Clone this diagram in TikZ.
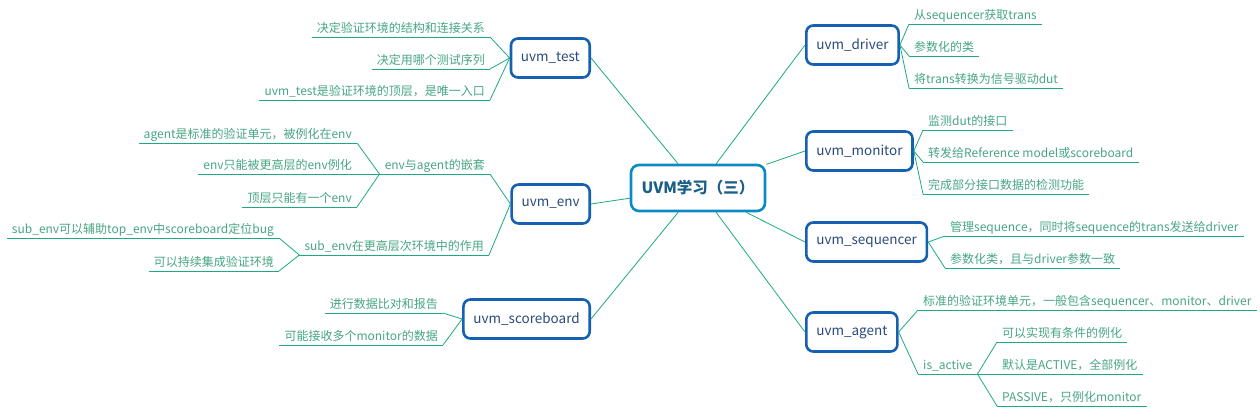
\documentclass[tikz,border=0pt]{standalone}
\usepackage{fontspec}
\setmainfont{Noto Sans CJK SC}
\usepackage{tikz}
\usetikzlibrary{positioning}
\definecolor{rootblue}{RGB}{12,138,196}
\definecolor{roottext}{RGB}{25,95,135}
\definecolor{branchblue}{RGB}{21,96,176}
\definecolor{branchtext}{RGB}{40,75,125}
\definecolor{twiggreen}{RGB}{28,170,128}
\definecolor{leaftext}{RGB}{70,165,130}

\tikzset{
  root/.style={draw=rootblue, line width=2.6pt, rounded corners=8pt, fill=white,
    text=roottext, font=\fontsize{15.5}{18}\selectfont\bfseries,
    minimum height=46pt, minimum width=134pt},
  branch/.style={draw=branchblue, line width=2.6pt, rounded corners=7pt, fill=white,
    text=branchtext, font=\fontsize{13.5}{16}\selectfont,
    minimum height=39pt, inner xsep=10pt},
  leaf/.style={text=leaftext, font=\fontsize{12}{14}\selectfont,
    inner xsep=5pt, inner ysep=2pt, text height=10pt, text depth=2.5pt},
  leafL/.style={leaf, anchor=south east},
  leafR/.style={leaf, anchor=south west},
  twig/.style={draw=twiggreen, line width=0.8pt}
}

\begin{document}
\begin{tikzpicture}[x=1pt, y=-1pt]
    \useasboundingbox (0,0) rectangle (1260,420);
    % the center
    \node[root] (root) at (698,188) {UVM学习（三）};

    % left branches
    \node[branch, anchor=east] (test) at (591,58) {uvm\_test};
    \node[branch, anchor=east] (env) at (591,204) {uvm\_env};
    \node[branch, anchor=east] (sb) at (591,319) {uvm\_scoreboard};

    % right branches
    \node[branch, anchor=west] (drv) at (805,45) {uvm\_driver};
    \node[branch, anchor=west] (mon) at (805,151) {uvm\_monitor};
    \node[branch, anchor=west] (seq) at (805,242) {uvm\_sequencer};
    \node[branch, anchor=west] (agt) at (805,332) {uvm\_agent};

    % uvm_test
    \node[leafL] (t1) at (490,37) {决定验证环境的结构和连接关系};
    \node[leafL] (t2) at (490,69) {决定用哪个测试序列};
    \node[leafL] (t3) at (490,100) {uvm\_test是验证环境的顶层，是唯一入口};

    % uvm_env
    \node[leafL] (e1) at (490,174) {env与agent的嵌套};
    \node[leafL] (e2) at (489,255) {sub\_env在更高层次环境中的作用};
    \node[leafL] (e11) at (357,143) {agent是标准的验证单元，被例化在env};
    \node[leafL] (e12) at (357,174) {env只能被更高层的env例化};
    \node[leafL] (e13) at (357,207) {顶层只能有一个env};
    \node[leafL] (e21) at (279,238) {sub\_env可以辅助top\_env中scoreboard定位bug};
    \node[leafL] (e22) at (279,271) {可以持续集成验证环境};

    % uvm_scoreboard
    \node[leafL] (s1) at (443,313) {进行数据比对和报告};
    \node[leafL] (s2) at (443,345) {可能接收多个monitor的数据};

    % uvm_driver
    \node[leafR] (d1) at (909,24) {从sequencer获取trans};
    \node[leafR] (d2) at (909,56) {参数化的类};
    \node[leafR] (d3) at (909,88) {将trans转换为信号驱动dut};

    % uvm_monitor
    \node[leafR] (m1) at (923,130) {监测dut的接口};
    \node[leafR] (m2) at (923,162) {转发给Reference model或scoreboard};
    \node[leafR] (m3) at (923,194) {完成部分接口数据的检测功能};

    % uvm_sequencer
    \node[leafR] (q1) at (945,236) {管理sequence，同时将sequence的trans发送给driver};
    \node[leafR] (q2) at (945,268) {参数化类，且与driver参数一致};

    % uvm_agent
    \node[leafR] (a1) at (918,310) {标准的验证环境单元，一般包含sequencer、monitor、driver};
    \node[leafR] (a2) at (918,374) {is\_active};
    \node[leafR] (a21) at (997,342) {可以实现有条件的例化};
    \node[leafR] (a22) at (997,374) {默认是ACTIVE，全部例化};
    \node[leafR] (a23) at (997,406) {PASSIVE，只例化monitor};

    % underlines
    \foreach \n in {t1,t2,t3,e1,e2,e11,e12,e13,e21,e22,s1,s2,
                    d1,d2,d3,m1,m2,m3,q1,q2,a1,a2,a21,a22,a23}
        \draw[twig] (\n.south west) -- (\n.south east);

    % connectors
    \draw[twig]
        (test.east) -- (root)
        (env.east) -- (root)
        (sb.east) -- (root)
        (drv.west) -- (root)
        (mon.west) -- (root)
        (seq.west) -- (root)
        (agt.west) -- (root);
    \draw[twig]
        (test.west) edge (t1.south east)
        (test.west) edge (t2.south east)
        (test.west) edge (t3.south east)
        (env.west) edge (e1.south east)
        (env.west) edge (e2.south east)
        (e1.south west) edge (e11.south east)
        (e1.south west) edge (e12.south east)
        (e1.south west) edge (e13.south east)
        (e2.south west) edge (e21.south east)
        (e2.south west) edge (e22.south east)
        (sb.west) edge (s1.south east)
        (sb.west) edge (s2.south east)
        (drv.east) edge (d1.south west)
        (drv.east) edge (d2.south west)
        (drv.east) edge (d3.south west)
        (mon.east) edge (m1.south west)
        (mon.east) edge (m2.south west)
        (mon.east) edge (m3.south west)
        (seq.east) edge (q1.south west)
        (seq.east) edge (q2.south west)
        (agt.east) edge (a1.south west)
        (agt.east) edge (a2.south west)
        (a2.south east) edge (a21.south west)
        (a2.south east) edge (a22.south west)
        (a2.south east) edge (a23.south west);
\end{tikzpicture}
\end{document}
